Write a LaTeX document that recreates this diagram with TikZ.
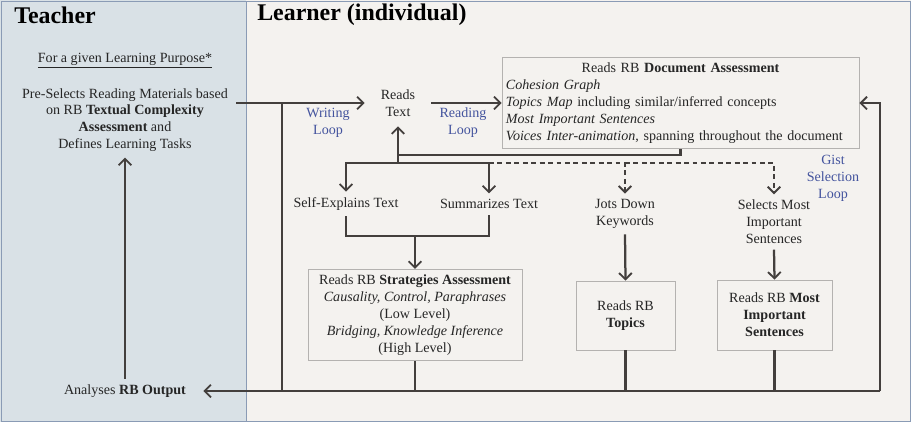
\documentclass[tikz,border=0pt]{standalone}
\usepackage{fontspec}
\setmainfont{Liberation Serif}
\usetikzlibrary{positioning,arrows.meta}

\definecolor{teacherbg}{HTML}{D9E1E6}
\definecolor{learnerbg}{HTML}{F4F2EF}
\definecolor{panelline}{HTML}{8A9BB5}
\definecolor{flowcol}{HTML}{433F3D}
\definecolor{boxline}{HTML}{B4B2B0}
\definecolor{loopblue}{HTML}{44549E}

\tikzset{
  txt/.style={align=center, font=\fontsize{10}{12}\selectfont, text=black!85, inner xsep=2pt, inner ysep=4pt},
  rbbox/.style={txt, draw=boxline, line width=0.5pt},
  looplbl/.style={txt, text=loopblue},
  title/.style={font=\fontsize{17}{20}\selectfont\bfseries, anchor=west, inner sep=0pt},
  link/.style={draw=flowcol, line width=1.6pt},
  flow/.style={link, -{Straight Barb[length=4.5pt,width=9pt,line width=1.3pt]}},
  dflow/.style={flow, dash pattern=on 3.5pt off 2.5pt}
}

\begin{document}
\begin{tikzpicture}[x=0.025cm, y=-0.025cm]
  % panels
  \fill[teacherbg] (0,0) rectangle (246,422);
  \fill[learnerbg] (246,0) rectangle (911,422);
  \draw[panelline, line width=0.6pt] (1,1) rectangle (910,421);
  \draw[panelline, line width=0.6pt] (246,1) -- (246,421);
  \node[title] (teacher) at (14,15) {Teacher};
  \node[title] (learner) at (257,15) {Learner (individual)};

  % teacher side
  \node[txt] (purpose) at (125,61) {\underline{For a given Learning Purpose*}};
  \node[txt] (preselect) at (125,120) {Pre-Selects Reading Materials based\\on RB \textbf{Textual Complexity}\\\textbf{Assessment} and\\Defines Learning Tasks};
  \node[txt, minimum width=3.9cm] (analyses) at (125,391) {Analyses \textbf{RB Output}};

  % learner side
  \node[txt, minimum width=1.65cm, minimum height=1.15cm] (reads) at (398,103) {Reads\\Text};
  \node[rbbox, text width=8.725cm, align=left, inner xsep=0.1cm, minimum height=2.15cm] (doc) at (680.5,103)
    {\makebox[\linewidth]{Reads RB \textbf{Document Assessment}}\\
     \textit{Cohesion Graph}\\
     \textit{Topics Map} including similar/inferred concepts\\
     \textit{Most Important Sentences}\\
     \textit{Voices Inter-animation}, spanning throughout the document};
  \node[looplbl] (wloop) at (328,123) {Writing\\Loop};
  \node[looplbl] (rloop) at (463,123) {Reading\\Loop};
  \node[looplbl] (gloop) at (833,178) {Gist\\Selection\\Loop};

  \node[txt] (selfexp) at (346,204) {Self-Explains Text};
  \node[txt] (summ) at (489,204) {Summarizes Text};
  \node[txt] (jots) at (625,214) {Jots Down\\Keywords};
  \node[txt] (selects) at (774,222) {Selects Most\\Important\\Sentences};

  \node[rbbox, minimum width=5.35cm, minimum height=2.15cm] (strat) at (415,315)
    {Reads RB \textbf{Strategies Assessment}\\
     \textit{Causality, Control, Paraphrases}\\
     (Low Level)\\
     \textit{Bridging, Knowledge Inference}\\
     (High Level)};
  \node[rbbox, minimum width=2.475cm, minimum height=1.725cm] (topics) at (625.5,315.5) {Reads RB\\\textbf{Topics}};
  \node[rbbox, minimum width=2.875cm, minimum height=1.75cm] (mis) at (774.5,315) {Reads RB \textbf{Most}\\\textbf{Important}\\\textbf{Sentences}};

  % junctions
  \coordinate (wstart) at (236,103);
  \coordinate (wdrop) at (282,103);
  \coordinate (wbot) at (282,391);
  \coordinate (branch) at (398,163);
  \coordinate (docback) at (398,155);
  \coordinate (merge) at (415,236);
  \coordinate (gcorner) at (880,391);

  % connectors
  \draw[flow] (wstart) -- (reads.west);
  \draw[link] (wdrop) -- (wbot);
  \draw[flow] (reads.east) -- (doc.west);
  \draw[link] (doc.south) |- (docback);
  \draw[flow] (branch) -- (reads.south);
  \draw[flow] (branch) -| (selfexp.north);
  \draw[flow] (branch) -| (summ.north);
  \draw[dflow] (summ.north |- branch) -| (jots.north);
  \draw[dflow] (jots.north |- branch) -| (selects.north);
  \draw[link] (selfexp.south) |- (merge) -| (summ.south);
  \draw[flow] (merge) -- (strat.north);
  \draw[flow] (jots.south) -- (topics.north);
  \draw[flow] (selects.south) -- (mis.north);
  \draw[link] (strat.south) -- (strat.south |- gcorner);
  \draw[link] (topics.south) -- (topics.south |- gcorner);
  \draw[link] (mis.south) -- (mis.south |- gcorner);
  \draw[flow] (gcorner) |- (doc.east);
  \draw[flow] (gcorner) -- (analyses.east);
  \draw[flow] (analyses.north) -- (preselect.south);
\end{tikzpicture}
\end{document}
